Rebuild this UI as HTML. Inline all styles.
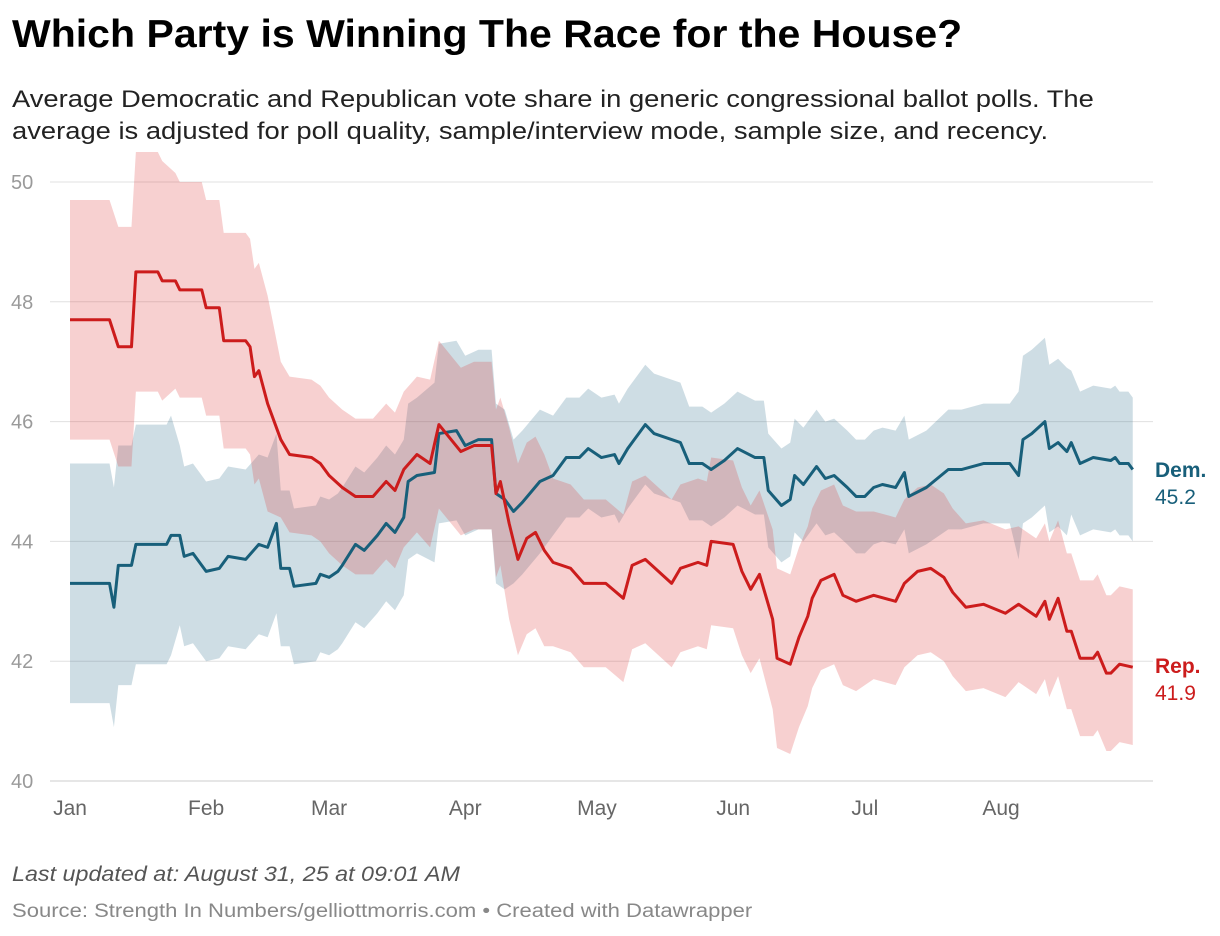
<!DOCTYPE html>
<html><head><meta charset="utf-8">
<style>
body{margin:0;background:#fff;width:1220px;height:936px;overflow:hidden;font-family:"Liberation Sans",sans-serif;}
.t{position:absolute;left:12px;white-space:nowrap;transform-origin:left top}
</style></head><body>
<div class="t" style="top:13px;font-size:39px;font-weight:bold;color:#000;transform:scaleX(1.052)">Which Party is Winning The Race for the House?</div>
<div class="t" style="top:84px;font-size:24px;line-height:32px;color:#222;transform:scaleX(1.14)">Average Democratic and Republican vote share in generic congressional ballot polls. The<br>average is adjusted for poll quality, sample/interview mode, sample size, and recency.</div>
<svg id="chart" style="position:absolute;left:0;top:0" width="1220" height="936"></svg>
<div class="t" style="top:863px;font-size:21px;font-style:italic;color:#555;transform:scaleX(1.11)">Last updated at: August 31, 25 at 09:01 AM</div>
<div class="t" style="top:901px;font-size:19px;color:#888;transform:scaleX(1.16)">Source: Strength In Numbers/gelliottmorris.com • Created with Datawrapper</div>
<script>
const yTicks=[40,42,44,46,48,50];
const months=["Jan","Feb","Mar","Apr","May","Jun","Jul","Aug"];
const monthDays=[0,31,59,90,120,151,181,212];
const demDays=[0,9,10,11,14,15,22,23,25,26,28,31,34,36,40,43,45,47,48,50,51,56,57,59,61,62,65,67,70,72,74,76,77,79,83,84,88,90,93,96,97,99,101,103,107,110,113,116,118,121,124,125,127,131,133,139,141,144,146,149,152,156,158,159,162,164,165,167,170,172,174,177,179,181,183,185,188,190,191,195,200,203,208,214,216,217,219,222,223,225,227,228,230,233,237,238,239,241,242];
const demVals=[43.3,43.3,42.9,43.6,43.6,43.95,43.95,44.1,44.1,43.75,43.8,43.5,43.55,43.75,43.7,43.95,43.9,44.3,43.55,43.55,43.25,43.3,43.45,43.4,43.5,43.6,43.95,43.85,44.1,44.3,44.15,44.4,45.0,45.1,45.15,45.8,45.85,45.6,45.7,45.7,44.8,44.7,44.5,44.65,45.0,45.1,45.4,45.4,45.55,45.4,45.45,45.3,45.55,45.95,45.8,45.65,45.3,45.3,45.2,45.35,45.55,45.4,45.4,44.85,44.6,44.7,45.1,44.95,45.25,45.05,45.1,44.9,44.75,44.75,44.9,44.95,44.9,45.15,44.75,44.9,45.2,45.2,45.3,45.3,45.1,45.7,45.8,46.0,45.55,45.65,45.5,45.65,45.3,45.4,45.35,45.4,45.3,45.3,45.2];
const repDays=[0,9,11,14,15,20,21,24,25,30,31,34,35,40,41,42,43,45,48,50,55,57,59,62,65,69,72,74,76,79,82,84,89,92,96,97,98,100,102,104,106,108,110,114,117,122,126,128,131,134,137,139,143,145,146,151,153,155,157,160,161,164,166,168,169,171,174,176,179,183,188,190,193,196,199,201,204,208,213,216,220,222,223,225,227,228,230,233,234,236,237,239,242];
const repVals=[47.7,47.7,47.25,47.25,48.5,48.5,48.35,48.35,48.2,48.2,47.9,47.9,47.35,47.35,47.25,46.75,46.85,46.3,45.7,45.45,45.4,45.3,45.1,44.9,44.75,44.75,45.0,44.85,45.2,45.45,45.3,45.95,45.5,45.6,45.6,44.8,45.0,44.3,43.7,44.05,44.15,43.85,43.65,43.55,43.3,43.3,43.05,43.6,43.7,43.5,43.3,43.55,43.65,43.6,44.0,43.95,43.5,43.2,43.45,42.7,42.05,41.95,42.4,42.75,43.05,43.35,43.45,43.1,43.0,43.1,43.0,43.3,43.5,43.55,43.4,43.15,42.9,42.95,42.8,42.95,42.75,43.0,42.7,43.05,42.5,42.5,42.05,42.05,42.15,41.8,41.8,41.95,41.9];
const demHwDays=[0,11,24,48,80,100,110,140,200,215,228];
const demHw=[2.0,2.0,1.5,1.3,1.5,1.2,1.0,0.95,1.0,1.4,1.2];
const repHwDays=[0,24,48,80,100,110,160,180,215];
const repHw=[2.0,1.8,1.3,1.4,1.6,1.4,1.5,1.4,1.3];

const NS="http://www.w3.org/2000/svg";
const svg=document.getElementById('chart');
const X=d=>70+d*(931/212);
const Y=v=>781-(v-40)*59.9;
function hwAt(days,hw,d){let h=hw[0];for(let i=0;i<days.length;i++){if(days[i]<=d)h=hw[i];}return h;}
function mk(tag,attrs){const e=document.createElementNS(NS,tag);for(const k in attrs)e.setAttribute(k,attrs[k]);svg.appendChild(e);return e;}

yTicks.forEach(v=>{
  const g=mk('line',{x1:50,x2:1153,y1:Y(v),y2:Y(v),stroke:v===40?'#ccc':'#e0e0e0','stroke-width':1});
  
  
  const t=mk('text',{x:11,y:Y(v)+7,'font-size':20,fill:'#9a9a9a'});
  t.textContent=v;
  
  
});
months.forEach((m,i)=>{
  const t=mk('text',{x:X(monthDays[i]),y:815,'font-size':21,fill:'#666','text-anchor':'middle'});
  t.textContent=m;
  
  
});
function band(days,vals,hd,hw,fill,name){
  const up=days.map((d,i)=>X(d)+','+Y(vals[i]+hwAt(hd,hw,d)));
  const lo=days.map((d,i)=>X(d)+','+Y(vals[i]-hwAt(hd,hw,d))).reverse();
  const p=mk('polygon',{points:up.concat(lo).join(' '),fill:fill});
  
  
}
function line(days,vals,col,name){
  const p=mk('polyline',{points:days.map((d,i)=>X(d)+','+Y(vals[i])).join(' '),fill:'none',stroke:col,'stroke-width':3,'stroke-linejoin':'round'});
  
  
}
band(demDays,demVals,demHwDays,demHw,'rgba(30,100,130,0.22)','dem-uncertainty-band');
band(repDays,repVals,repHwDays,repHw,'rgba(220,60,60,0.24)','rep-uncertainty-band');
line(demDays,demVals,'#185f7a','dem-line');
line(repDays,repVals,'#cc1c1c','rep-line');
function lab(y,txt,col,bold,name){const t=mk('text',{x:1155,y:y,'font-size':21,fill:col,'font-weight':bold?'bold':'normal'});t.textContent=txt;}
lab(477,'Dem.','#185f7a',true,'dem-label');
lab(504,demVals[demVals.length-1].toFixed(1),'#185f7a',false,'dem-value');
lab(673,'Rep.','#cc1c1c',true,'rep-label');
lab(700,repVals[repVals.length-1].toFixed(1),'#cc1c1c',false,'rep-value');
</script>
</body></html>
